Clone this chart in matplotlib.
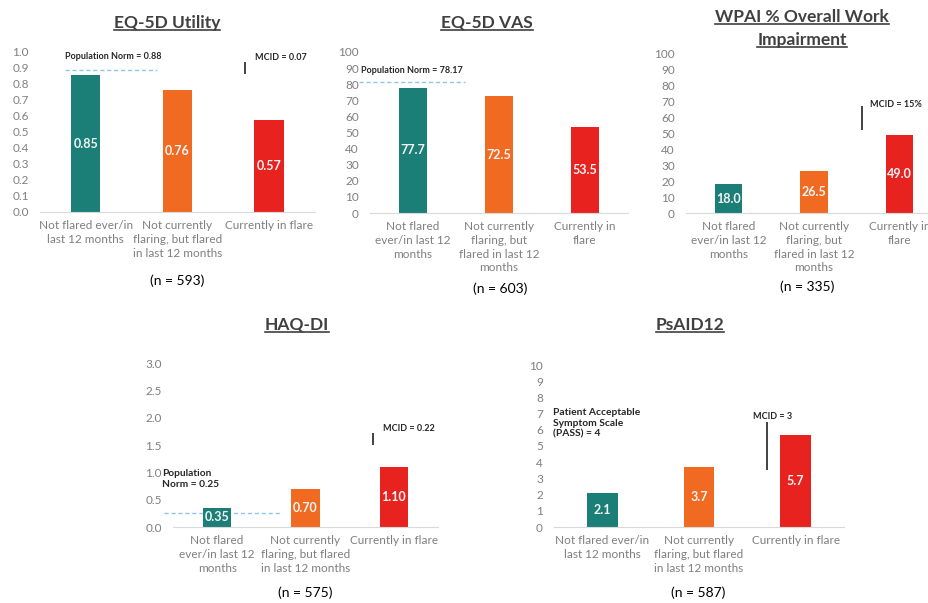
import matplotlib
matplotlib.use("Agg")
import matplotlib.pyplot as plt
from matplotlib.lines import Line2D
import numpy as np

# --- data -------------------------------------------------------------
cats_a = ["Not flared ever/in\nlast 12 months",
          "Not currently\nflaring, but flared\nin last 12 months",
          "Currently in flare"]
cats_b = ["Not flared\never/in last 12\nmonths",
          "Not currently\nflaring, but\nflared in last 12\nmonths",
          "Currently in\nflare"]
cats_c = ["Not flared\never/in last 12\nmonths",
          "Not currently\nflaring, but flared\nin last 12 months",
          "Currently in flare"]

eq5d_util = [0.85, 0.76, 0.57]
eq5d_vas = [77.7, 72.5, 53.5]
wpai_owi = [18.0, 26.5, 49.0]
haq_di = [0.35, 0.70, 1.10]
psaid12 = [2.1, 3.7, 5.7]

n_labels = ["(n = 593)", "(n = 603)", "(n = 335)", "(n = 575)", "(n = 587)"]

BAR_COLORS = ["#1b7f78", "#f06a21", "#e8221f"]
TICK_GRAY = "#7f7f7f"
TITLE_COLOR = "#404040"
NOTE_COLOR = "#262626"
NORM_COLOR = "#8fc6e8"
FONT = ["Lato", "DejaVu Sans"]

plt.rcParams["font.family"] = FONT

W, H = 929, 603
fig = plt.figure(figsize=(W / 100, H / 100), dpi=100)


def px_axes(x0, x1, ytop, ybot):
    # axes rectangle from pixel edges (origin top-left)
    return fig.add_axes([x0 / W, 1 - ybot / H, (x1 - x0) / W, (ybot - ytop) / H])


def bar_panel(ax, cats, vals, fmt, ymax, ystep, yfmt, xlim=(-0.5, 2.5)):
    x = np.arange(len(vals))
    ax.bar(x, vals, width=0.32, color=BAR_COLORS, zorder=2)
    for xi, v in zip(x, vals):
        ax.text(xi, v / 2, fmt.format(v), ha="center", va="center",
                color="#f4f4f4", fontsize=9, fontweight="bold", zorder=3)
    ax.set_xlim(*xlim)
    ax.set_ylim(0, ymax)
    ax.set_yticks(np.arange(0, ymax + ystep / 2, ystep))
    ax.yaxis.set_major_formatter(plt.FormatStrFormatter(yfmt))
    ax.set_xticks(x)
    ax.set_xticklabels(cats, fontsize=8.5, color=TICK_GRAY, linespacing=1.3)
    ax.tick_params(axis="y", length=0, pad=8, labelsize=8.5, labelcolor=TICK_GRAY)
    ax.tick_params(axis="x", length=0, pad=6)
    for s in ["left", "right", "top"]:
        ax.spines[s].set_visible(False)
    ax.spines["bottom"].set_color("#d9d9d9")
    ax.patch.set_alpha(0)


def note(ax, x, y, s, size=6.5, **kw):
    ax.text(x, y, s, fontsize=size, fontweight="bold", color=NOTE_COLOR,
            ha="left", va="center", clip_on=False, linespacing=1.3, **kw)


def mcid(ax, x, y0, h):
    ax.vlines(x, y0, y0 + h, color="#333333", lw=1.3, clip_on=False)


def norm_line(ax, x0, x1, y):
    ax.hlines(y, x0, x1, color=NORM_COLOR, lw=1, linestyles=(0, (3, 2)),
              clip_on=False, zorder=1)


# EQ-5D Utility
ax1 = px_axes(40, 315, 51, 212)
bar_panel(ax1, cats_a, eq5d_util, "{:.2f}", 1.0, 0.1, "%.1f")
norm_line(ax1, -0.23, 0.78, 0.88)
note(ax1, -0.23, 0.965, "Population Norm = 0.88")
mcid(ax1, 1.74, 0.86, 0.07)
note(ax1, 1.85, 0.96, "MCID = 0.07")

# EQ-5D VAS
ax2 = px_axes(370, 628, 52, 213)
bar_panel(ax2, cats_b, eq5d_vas, "{:.1f}", 100, 10, "%d")
norm_line(ax2, -0.63, 0.60, 81.5)
note(ax2, -0.61, 88.5, "Population Norm = 78.17")

# WPAI
ax3 = px_axes(686, 929, 53, 213)
bar_panel(ax3, cats_b, wpai_owi, "{:.1f}", 100, 10, "%d", xlim=(-0.497, 2.345))
mcid(ax3, 1.56, 52, 15)
note(ax3, 1.65, 68, "MCID = 15%")

# HAQ-DI
ax4 = px_axes(173, 438, 363, 527)
bar_panel(ax4, cats_c, haq_di, "{:.2f}", 3.0, 0.5, "%.1f")
norm_line(ax4, -0.6, 0.71, 0.25)
note(ax4, -0.62, 0.88, "Population\nNorm = 0.25", size=7.3)
mcid(ax4, 1.76, 1.5, 0.22)
note(ax4, 1.88, 1.81, "MCID = 0.22")

# PsAID12
ax5 = px_axes(554, 844, 365, 527)
bar_panel(ax5, cats_a, psaid12, "{:.1f}", 10, 1, "%d")
note(ax5, -0.51, 6.4, "Patient Acceptable\nSymptom Scale\n(PASS) = 4", size=7.4)
mcid(ax5, 1.70, 3.5, 3)
note(ax5, 1.56, 6.85, "MCID = 3")

# titles (underlined) and n labels, positions in pixels
titles = [("EQ-5D Utility", 167, 23), ("EQ-5D VAS", 487, 23),
          ("WPAI % Overall Work", 802, 17), ("Impairment", 802, 40),
          ("HAQ-DI", 297, 325), ("PsAID12", 690, 325)]
title_artists = []
for s, x, y in titles:
    t = fig.text(x / W, 1 - y / H, s, ha="center", va="center",
                 fontsize=12.5, fontweight="bold", color=TITLE_COLOR)
    title_artists.append(t)

n_pos = [(177, 281), (500, 289), (807, 287), (305, 593), (698, 593)]
for s, (x, y) in zip(n_labels, n_pos):
    fig.text(x / W, 1 - y / H, s, ha="center", va="center", fontsize=10, color="black")

fig.canvas.draw()
inv = fig.transFigure.inverted()
for t in title_artists:
    bb = t.get_window_extent()
    (x0, y0), (x1, _) = inv.transform([(bb.x0, bb.y0 + 1.5), (bb.x1, bb.y0 + 1.5)])
    fig.add_artist(Line2D([x0, x1], [y0, y0], color=TITLE_COLOR, lw=1.2,
                          transform=fig.transFigure))

fig.savefig("out.png", dpi=100)
